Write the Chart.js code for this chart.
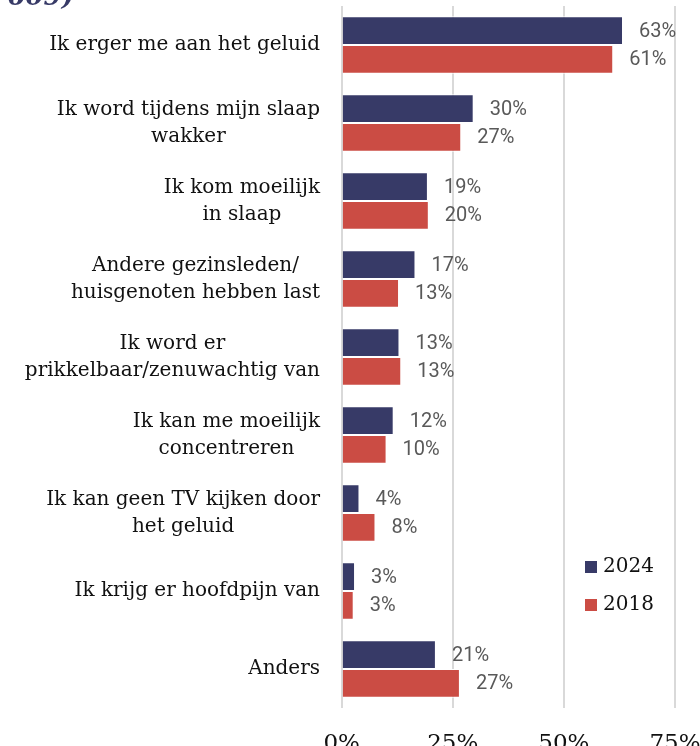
<!DOCTYPE html>
<html>
<head>
<meta charset="utf-8">
<script src="https://cdn.jsdelivr.net/npm/chart.js@4"></script>
<style>
  html,body{margin:0;padding:0;background:#fff;overflow:hidden;}
  #wrap{position:relative;width:700px;height:780px;}
</style>
</head>
<body>
<div id="wrap"><canvas id="c"></canvas></div>
<script>
const categories = [
  ['Ik erger me aan het geluid'],
  ['Ik word tijdens mijn slaap','wakker'],
  ['Ik kom moeilijk','in slaap'],
  ['Andere gezinsleden/','huisgenoten hebben last'],
  ['Ik word er','prikkelbaar/zenuwachtig van'],
  ['Ik kan me moeilijk','concentreren'],
  ['Ik kan geen TV kijken door','het geluid'],
  ['Ik krijg er hoofdpijn van'],
  ['Anders']
];
const values2024 = [63.3, 29.7, 19.4, 16.6, 13.0, 11.7, 4.0, 3.0, 21.2];
const values2018 = [61.1, 26.9, 19.6, 12.9, 13.4, 10.1, 7.6, 2.7, 26.6];
const xTicks = [0, 25, 50, 75];
const subtitle = '(n = 609)';

const NAVY = '#373a67', RED = '#cb4c44';
const SERIF = '"DejaVu Serif", serif';

// category labels: block right aligned, lines centred inside the block
const catLabels = {
  id:'catLabels',
  afterDraw(chart){
    const ctx = chart.ctx, y = chart.scales.y;
    ctx.save();
    ctx.font = '20px ' + SERIF;
    ctx.fillStyle = '#111';
    ctx.textBaseline = 'middle';
    ctx.textAlign = 'center';
    categories.forEach((lines,i)=>{
      const w = Math.max(...lines.map(l=>ctx.measureText(l).width));
      const cx = 320 - w/2, cy = y.getPixelForValue(i), lh = 27;
      lines.forEach((l,k)=>ctx.fillText(l, cx, cy + (k-(lines.length-1)/2)*lh));
    });
    ctx.restore();
  }
};

const barLabels = {
  id:'barLabels',
  afterDatasetsDraw(chart){
    const ctx = chart.ctx;
    ctx.save();
    ctx.font = '20px Roboto';
    ctx.fillStyle = '#595959';
    ctx.textBaseline = 'middle';
    chart.data.datasets.forEach((ds,di)=>{
      chart.getDatasetMeta(di).data.forEach((bar,i)=>{
        ctx.fillText(Math.round(ds.data[i]) + '%', bar.x + 16, bar.y + 1);
      });
    });
    ctx.restore();
  }
};

const legendBox = {
  id:'legendBox',
  afterDraw(chart){
    const ctx = chart.ctx;
    ctx.save();
    ctx.font = '20px ' + SERIF;
    ctx.textBaseline = 'middle';
    chart.data.datasets.forEach((ds,i)=>{
      const cy = 567 + i*38;
      ctx.fillStyle = ds.backgroundColor;
      ctx.fillRect(585, cy-6, 12, 12);
      ctx.fillStyle = '#111';
      ctx.fillText(ds.label, 603, cy);
    });
    // cropped subtitle at the very top
    ctx.font = 'italic bold 26px ' + SERIF;
    ctx.fillStyle = NAVY;
    ctx.textAlign = 'right';
    ctx.textBaseline = 'alphabetic';
    ctx.fillText(subtitle, 74, 5);
    ctx.restore();
  }
};

new Chart(document.getElementById('c'), {
  type:'bar',
  data:{
    labels: categories.map(c=>c.join(' ')),
    datasets:[
      {label:'2024', data:values2024, backgroundColor:NAVY, borderColor:'#fff', borderWidth:1, borderSkipped:'start'},
      {label:'2018', data:values2018, backgroundColor:RED, borderColor:'#fff', borderWidth:1, borderSkipped:'start'}
    ]
  },
  options:{
    indexAxis:'y', responsive:true, maintainAspectRatio:false, animation:false,
    categoryPercentage:0.74, barPercentage:1,
    layout:{padding:{top:6, right:25, left:0, bottom:0}},
    plugins:{legend:{display:false}, tooltip:{enabled:false}},
    scales:{
      x:{
        min:0, max:75,
        afterBuildTicks:s=>{ s.ticks = xTicks.map(v=>({value:v})); },
        afterFit:s=>{ s.height = 72; s.paddingLeft = 0; s.paddingRight = 0; },
        grid:{color:'#d9d9d9', lineWidth:2, drawTicks:false},
        border:{display:false},
        ticks:{padding:22, color:'#111', font:{family:SERIF, size:23}, callback:v=>v+'%'}
      },
      y:{
        afterFit:s=>{ s.width = 341.7; },
        grid:{display:false}, border:{display:false},
        ticks:{display:false}
      }
    }
  },
  plugins:[catLabels, barLabels, legendBox]
});
</script>
</body>
</html>
